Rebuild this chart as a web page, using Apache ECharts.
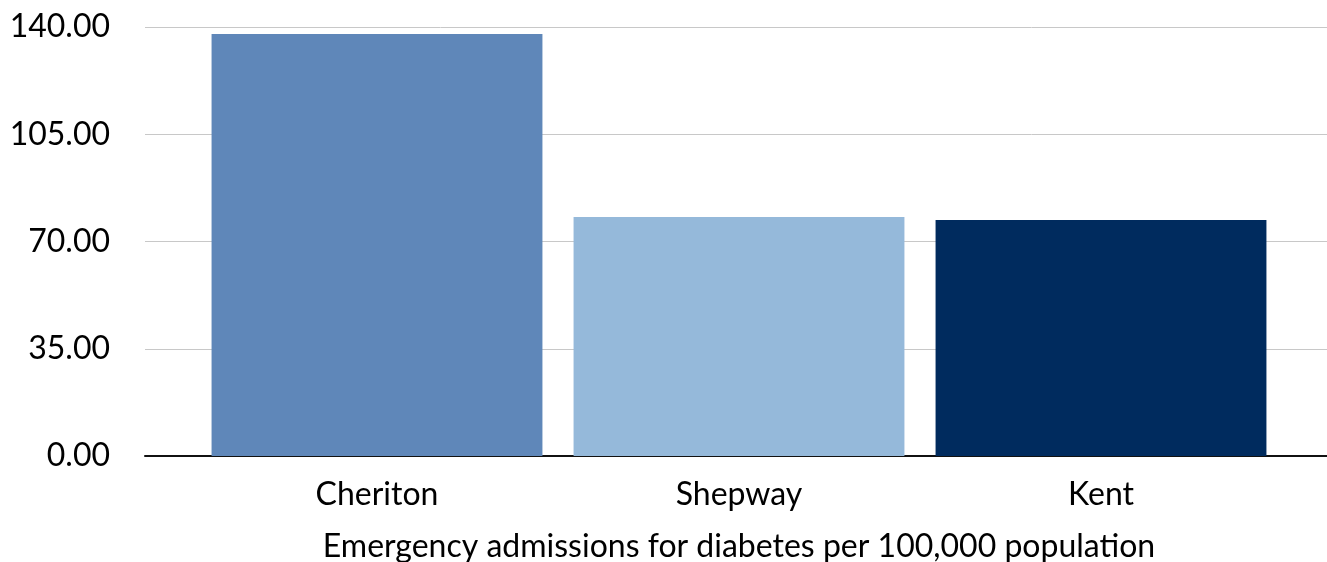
<!DOCTYPE html>
<html><head><meta charset="utf-8">
<script src="https://cdn.jsdelivr.net/npm/echarts@6/dist/echarts.min.js"></script>
<style>html,body{margin:0;padding:0;background:#fff}#c{width:1327px;height:562px}</style>
</head><body><div id="c"></div>
<script>
var categories = ['Cheriton', 'Shepway', 'Kent'];
var values = [137.7, 78.0, 77.0];
var barColors = ['#5F87B9', '#95B9DA', '#002B5E'];
var yTicks = {min: 0, max: 140, interval: 35};
var axisTitle = 'Emergency admissions for diabetes per 100,000 population';

var FONT = 'Lato';
var chart = echarts.init(document.getElementById('c'), null, {renderer: 'canvas'});
chart.setOption({
  animation: false,
  textStyle: {fontFamily: FONT},
  grid: [
    {left: 145, right: 0, top: 27, bottom: 106, containLabel: false, outerBoundsMode: 'none'},
    {left: 196, right: 45, top: 27, bottom: 106, containLabel: false, outerBoundsMode: 'none'}
  ],
  xAxis: [
    {gridIndex: 0, type: 'value', min: 0, max: 1, show: true,
     axisLine: {show: true, onZero: false, lineStyle: {color: '#111', width: 2}},
     axisTick: {show: false}, axisLabel: {show: false}, splitLine: {show: false}},
    {gridIndex: 1, type: 'category', data: categories,
     axisLine: {show: false}, axisTick: {show: false},
     axisLabel: {fontFamily: FONT, fontSize: 32, color: '#000', margin: 23},
     name: axisTitle, nameLocation: 'middle', nameGap: 75,
     nameTextStyle: {fontFamily: FONT, fontSize: 32, color: '#000'}}
  ],
  yAxis: [
    {gridIndex: 0, type: 'value', min: yTicks.min, max: yTicks.max, interval: yTicks.interval,
     axisLine: {show: false}, axisTick: {show: false},
     axisLabel: {fontFamily: FONT, fontSize: 32, color: '#000', margin: 35,
       formatter: function (v) { return v.toFixed(2); }},
     splitLine: {show: true, lineStyle: {color: '#c8c8c8', width: 1}}},
    {gridIndex: 1, type: 'value', min: yTicks.min, max: yTicks.max, interval: yTicks.interval,
     show: false, splitLine: {show: false}}
  ],
  series: [{
    type: 'bar', xAxisIndex: 1, yAxisIndex: 1,
    data: values.map(function (v, i) { return {value: v, itemStyle: {color: barColors[i]}}; }),
    barCategoryGap: '8.6%', z: 1
  }]
});
</script></body></html>
